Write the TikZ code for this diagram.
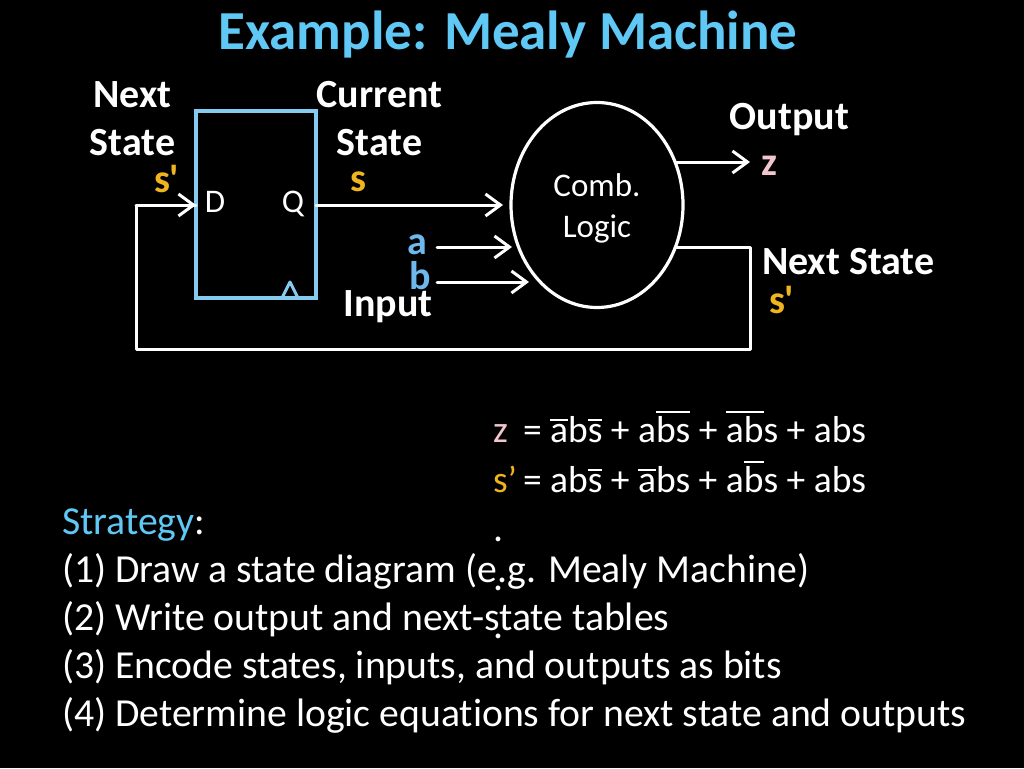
\documentclass[tikz,border=0pt]{standalone}
\usepackage{fontspec}
\setmainfont[Ligatures={TeXOff,NoCommon}]{Carlito}
\usetikzlibrary{shapes.geometric,arrows.meta}
\definecolor{skyc}{HTML}{5FC8F5}
\definecolor{ffc}{HTML}{85CBEF}
\definecolor{orangec}{HTML}{F0B41E}
\definecolor{bluec}{HTML}{6FB8EE}
\definecolor{pinkc}{HTML}{F3C6CF}
\newsavebox{\ovlbox}
\newcommand{\ovl}[2][0pt]{\sbox{\ovlbox}{#2}\leavevmode\rlap{\raisebox{#1}{\rule{\wd\ovlbox}{1.2pt}}}\usebox{\ovlbox}}
\tikzset{
  txt/.style={inner sep=0pt,outer sep=0pt,anchor=base west,text=white,font=\fontsize{39.7}{40}\selectfont},
  eq/.style={txt,font=\fontsize{37.5}{37.5}\selectfont},
  lbl/.style={inner sep=0pt,outer sep=0pt,anchor=base,text=white,font=\fontsize{40}{40}\selectfont\bfseries},
  lblw/.style={lbl,anchor=base west},
  small/.style={inner sep=0pt,outer sep=0pt,anchor=base,text=white,font=\fontsize{33}{33}\selectfont},
  wire/.style={draw=white,line width=3pt,line join=round,line cap=round},
  arr/.style={wire,-{Straight Barb[length=15pt,width=22pt,line width=3pt]}},
  ffbox/.style={draw=ffc,line width=3.2pt,inner sep=0pt,outer sep=0pt,minimum width=120pt,minimum height=187pt},
  logic/.style={draw=white,line width=3.2pt,ellipse,inner sep=0pt,outer sep=0pt,minimum width=172pt,minimum height=205pt}
}
\begin{document}
\begin{tikzpicture}[x=1pt,y=-1pt]
\fill[black] (0,0) rectangle (1024,768);
\useasboundingbox (0,0) rectangle (1024,768);
% shapes
\node[ffbox] (ff) at (256,204.5) {};
\node[logic] (cl) at (597,205) {};
\coordinate (ck1) at (282,298);
\coordinate (ck2) at (290,282);
\coordinate (ck3) at (298,298);
\draw[draw=ffc,line width=3pt,line join=round] (ck1) -- (ck2) -- (ck3);
% anchors of wires
\coordinate (fbl) at (136,205);
\coordinate (fbb) at (136,349);
\coordinate (fbr) at (750,349);
\coordinate (fbt) at (750,247);
\coordinate (clout) at (675,247);
\coordinate (qout) at (316,205);
\coordinate (qin) at (503,205);
\coordinate (dpt) at (196,205);
\coordinate (astart) at (437,247);
\coordinate (aend) at (512,247);
\coordinate (bstart) at (437,282);
\coordinate (bend) at (529,282);
\coordinate (zstart) at (676,162);
\coordinate (zend) at (750,162);
% wires
\draw[wire] (clout) -- (fbt) -- (fbr) -- (fbb) -- (fbl) -- (dpt);
\draw[arr] (fbl) -- (dpt);
\draw[arr] (qout) -- (qin);
\draw[arr] (astart) -- (aend);
\draw[arr] (bstart) -- (bend);
\draw[arr] (zstart) -- (zend);
% title
\node[inner sep=0pt,anchor=base,text=skyc,font=\fontsize{55}{55}\selectfont\bfseries] (title) at (508,49) {Example: Mealy Machine};
% labels
\node[lbl] (n1) at (132.5,107) {Next};
\node[lbl] (n2) at (132.5,155) {State};
\node[lbl] (c1) at (379.5,107) {Current};
\node[lbl] (c2) at (379.5,155) {State};
\node[lblw,text=orangec] (sp1) at (154,192) {s'};
\node[lblw,text=orangec] (s1) at (350,191) {s};
\node[small] (d) at (215,212) {D};
\node[small] (q) at (293,212) {Q};
\node[small] (comb) at (597,196) {Comb.};
\node[small] (log) at (597,237) {Logic};
\node[lblw,text=bluec] (a) at (407.5,254) {a};
\node[lblw,text=bluec] (b) at (409.5,289) {b};
\node[lblw] (inp) at (343.5,316) {Input};
\node[lbl] (out) at (789.5,129) {Output};
\node[lblw,text=pinkc] (z) at (761,175) {z};
\node[lblw] (ns) at (762,274) {Next State};
\node[lblw,text=orangec] (sp2) at (769,313) {s'};
% equations
\node[eq] (e1) at (493,442.5) {\makebox[30pt][l]{\textcolor{pinkc}{z}}= \ovl[22pt]{a}b\ovl[22pt]{s} + a\ovl[30pt]{bs} + \ovl[30pt]{ab}s + abs};
\node[eq] (e2) at (493,492.5) {\makebox[30pt][l]{\textcolor{orangec}{s’}}= ab\ovl[22pt]{s} + \ovl[22pt]{a}bs + a\ovl[30pt]{b}s + abs};
% strategy
\node[txt] (st) at (62,534) {\textcolor{skyc}{Strategy}:};
\node[txt] (l1) at (62,582) {(1) Draw a state diagram (e.g. Mealy Machine)};
\node[txt] (l2) at (62,630) {(2) Write output and next-state tables};
\node[txt] (l3) at (62,678) {(3) Encode states, inputs, and outputs as bits};
\node[txt] (l4) at (62,726) {(4) Determine logic equations for next state and outputs};
% dots
\node[txt] (d1) at (493,541) {.};
\node[txt] (d2) at (493,590) {.};
\node[txt] (d3) at (493,638) {.};
\end{tikzpicture}
\end{document}
